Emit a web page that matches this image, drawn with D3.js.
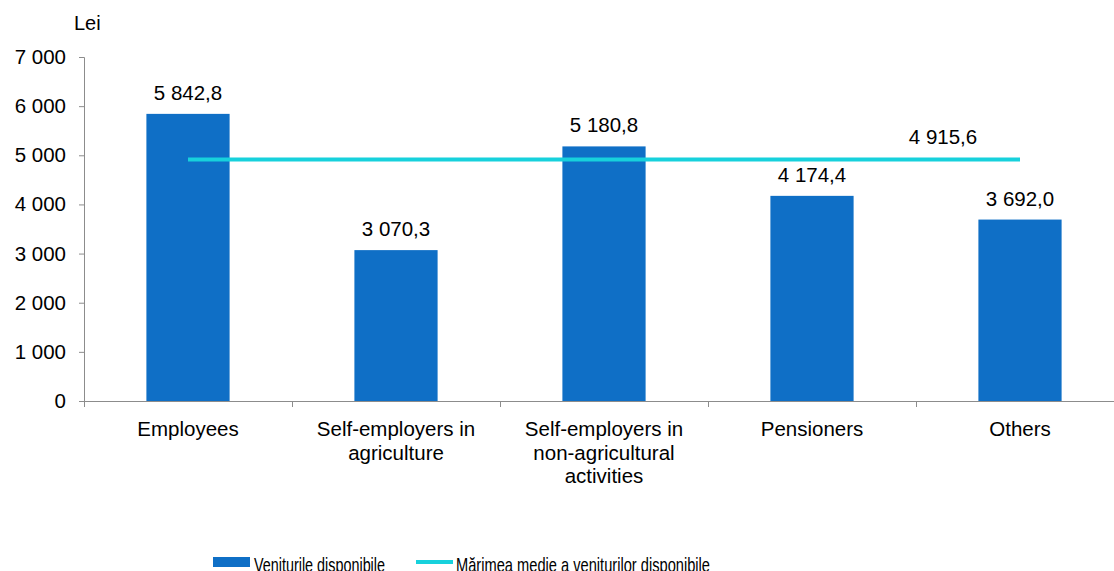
<!DOCTYPE html>
<html lang="en">
<head>
  <meta charset="UTF-8">
  <title>Venituri disponibile</title>
  <script src="https://d3js.org/d3.v7.min.js"></script>
  <style>
    body { margin: 0; background: #fff; }
    text { font-family: "Liberation Sans", Arial, sans-serif; fill: #000; }
  </style>
</head>
<body>
  <svg width="1114" height="571"></svg>
<script>
// data
var categories = ["Employees", "Self-employers in agriculture",
                  "Self-employers in non-agricultural activities", "Pensioners", "Others"];
var catLines = [["Employees"], ["Self-employers in", "agriculture"],
                ["Self-employers in", "non-agricultural", "activities"], ["Pensioners"], ["Others"]];
var values = [5842.8, 3070.3, 5180.8, 4174.4, 3692.0];
var average = 4915.6;
var yTicks = [0, 1000, 2000, 3000, 4000, 5000, 6000, 7000];

var barColor = "#0F6FC6", lineColor = "#17D1DC", axisColor = "#8c8c8c";

var svg = d3.select("svg");
var mLeft = 84, mTop = 57, mBottom = 401;

var x = d3.scaleBand().domain(categories).range([mLeft, mLeft + 1040])
  .paddingInner(0.6).paddingOuter(0.3);
var y = d3.scaleLinear().domain([0, 7000]).range([mBottom, mTop]);

// number format like "5 842,8"
function fmt(v, dec) {
  var s = v.toFixed(dec).split(".");
  var intPart = s[0].replace(/\B(?=(\d{3})+(?!\d))/g, " ");
  return dec ? intPart + "," + s[1] : intPart;
}

// y axis
var yAxis = svg.append("g")
  .attr("transform", "translate(" + mLeft + ",0)")
  .call(d3.axisLeft(y).tickValues(yTicks).tickSize(5).tickPadding(13)
    .tickFormat(function(d){ return fmt(d, 0); }));
yAxis.selectAll("path, line").attr("stroke", axisColor);
yAxis.selectAll("text").attr("font-size", "20.5px").attr("fill", "#000")
  .style("font-family", "'Liberation Sans', Arial, sans-serif");

// x axis: ticks at band boundaries
var step = x.step();
var xg = svg.append("g");
xg.append("line").attr("x1", mLeft).attr("x2", 1114)
  .attr("y1", mBottom + 0.5).attr("y2", mBottom + 0.5).attr("stroke", axisColor);
xg.selectAll("line.tk").data(d3.range(categories.length + 1)).enter()
  .append("line").attr("class", "tk")
  .attr("x1", function(i){ return mLeft + i * step + 0.5; })
  .attr("x2", function(i){ return mLeft + i * step + 0.5; })
  .attr("y1", mBottom).attr("y2", mBottom + 6).attr("stroke", axisColor);

// category labels
svg.selectAll("text.cat").data(categories).enter()
  .append("text").attr("class", "cat")
  .attr("x", function(d){ return x(d) + x.bandwidth() / 2; })
  .attr("y", mBottom + 35)
  .attr("text-anchor", "middle").attr("font-size", "20.5px")
  .each(function(d, i) {
    var t = d3.select(this);
    catLines[i].forEach(function(l, j) {
      t.append("tspan").attr("x", x(d) + x.bandwidth() / 2)
        .attr("dy", j === 0 ? 0 : 23.5).text(l);
    });
  });

// bars
svg.selectAll("rect.bar").data(values).enter()
  .append("rect").attr("class", "bar")
  .attr("x", function(d, i){ return x(categories[i]); })
  .attr("width", x.bandwidth())
  .attr("y", function(d){ return y(d); })
  .attr("height", function(d){ return mBottom - y(d); })
  .attr("fill", barColor);

svg.selectAll("text.val").data(values).enter()
  .append("text").attr("class", "val")
  .attr("x", function(d, i){ return x(categories[i]) + x.bandwidth() / 2; })
  .attr("y", function(d){ return y(d) - 14; })
  .attr("text-anchor", "middle").attr("font-size", "20.5px")
  .text(function(d){ return fmt(d, 1); });

// average line
var lineData = categories.map(function(c){ return { c: c, v: average }; });
var line = d3.line()
  .x(function(d){ return x(d.c) + x.bandwidth() / 2; })
  .y(function(d){ return y(d.v); });
svg.append("path").datum(lineData)
  .attr("d", line).attr("fill", "none")
  .attr("stroke", lineColor).attr("stroke-width", 4);

svg.append("text")
  .attr("x", x(categories[4]) + x.bandwidth() / 2 - 77)
  .attr("y", y(average) - 15)
  .attr("text-anchor", "middle").attr("font-size", "20.5px")
  .text(fmt(average, 1));

// unit
svg.append("text").attr("x", 74).attr("y", 30).attr("font-size", "20px").text("Lei");

// legend (text is narrower in the reference)
var lg = svg.append("g");
lg.append("rect").attr("x", 213).attr("y", 557).attr("width", 37).attr("height", 10).attr("fill", barColor);
lg.append("text").attr("x", 254).attr("y", 572).attr("font-size", "21px")
  .attr("textLength", 131).attr("lengthAdjust", "spacingAndGlyphs")
  .text("Veniturile disponibile");
lg.append("line").attr("x1", 416).attr("x2", 453).attr("y1", 562).attr("y2", 562)
  .attr("stroke", lineColor).attr("stroke-width", 4);
lg.append("text").attr("x", 456).attr("y", 572).attr("font-size", "21px")
  .attr("textLength", 254).attr("lengthAdjust", "spacingAndGlyphs")
  .text("Mărimea medie a veniturilor disponibile");
</script>
</body>
</html>
